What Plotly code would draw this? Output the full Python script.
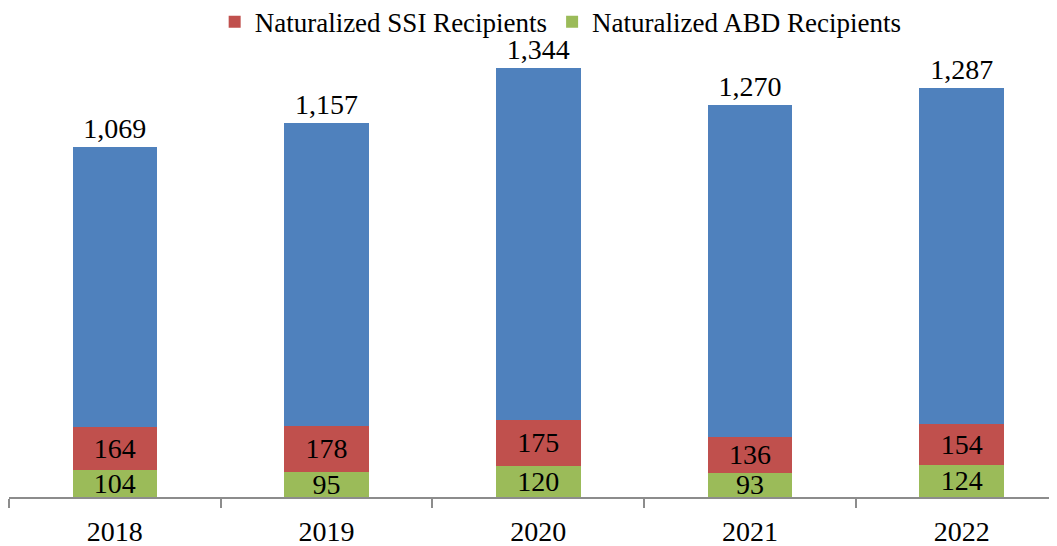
import plotly.graph_objects as go

years = ["2018", "2019", "2020", "2021", "2022"]
abd = [104, 95, 120, 93, 124]
ssi = [164, 178, 175, 136, 154]
naturalized = [1069, 1157, 1344, 1270, 1287]

FONT = "Liberation Serif"
fig = go.Figure()
fig.add_trace(go.Bar(
    x=years, y=abd, name="Naturalized ABD Recipients", marker_color="#9BBB59",
    text=abd, texttemplate="%{y:,}", textposition="inside", insidetextanchor="middle",
    textangle=0,
    textfont=dict(family=FONT, size=28, color="black"), width=0.4,
    marker_line_width=0, legendrank=2,
))
fig.add_trace(go.Bar(
    x=years, y=ssi, name="Naturalized SSI Recipients", marker_color="#C0504D",
    text=ssi, texttemplate="%{y:,}", textposition="inside", insidetextanchor="middle",
    textangle=0,
    textfont=dict(family=FONT, size=28, color="black"), width=0.4,
    marker_line_width=0, legendrank=1,
))
fig.add_trace(go.Bar(
    x=years, y=naturalized, name="Naturalized", marker_color="#4F81BD",
    text=naturalized, texttemplate="%{y:,}", textposition="outside", textangle=0,
    textfont=dict(family=FONT, size=28, color="black"), width=0.4,
    marker_line_width=0, showlegend=False, cliponaxis=False,
))

fig.update_layout(
    barmode="stack",
    width=1057, height=546,
    margin=dict(l=1, r=8, t=0, b=57, autoexpand=False),
    plot_bgcolor="white", paper_bgcolor="white",
    font=dict(family=FONT, size=28, color="black"),
    uniformtext=dict(minsize=28, mode="show"),
    legend=dict(orientation="h", x=0.5264, xanchor="center", y=1.021, yanchor="top",
                traceorder="normal",
                font=dict(family=FONT, size=27, color="black"),
                itemclick=False, bgcolor="rgba(0,0,0,0)"),
    xaxis=dict(range=[-0.5, 4.45], showline=True, linecolor="#8C8C8C", linewidth=2,
               ticks="outside", tickson="boundaries", ticklen=9, tickcolor="#8C8C8C",
               tickwidth=2, showgrid=False, ticklabelstandoff=8, automargin=False,
               tickfont=dict(family=FONT, size=28, color="black")),
    yaxis=dict(range=[0, 1870], visible=False, showgrid=False, automargin=False),
    showlegend=True,
)
fig.write_html("out.html")
